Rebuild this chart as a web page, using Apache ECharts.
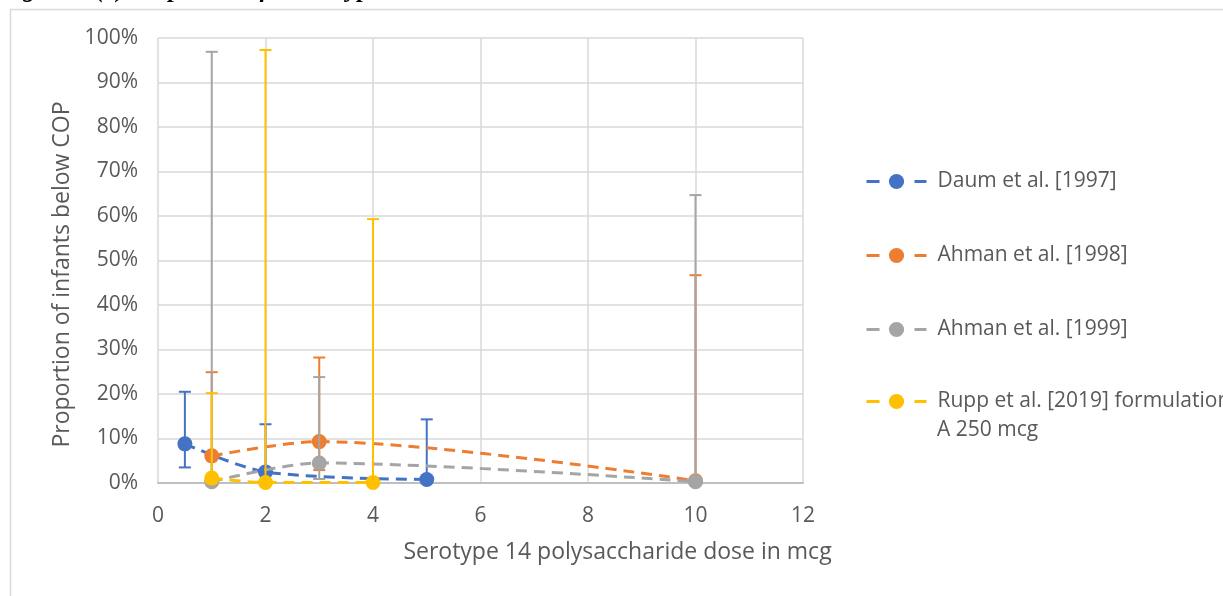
<!DOCTYPE html>
<html>
<head>
<meta charset="utf-8">
<script src="https://cdn.jsdelivr.net/npm/echarts@6/dist/echarts.min.js"></script>
<style>
  html, body { margin: 0; padding: 0; background: #fff; }
  #chart { width: 1223px; height: 596px; }
</style>
</head>
<body>
<div id="chart"></div>
<script>
var chartDom = document.getElementById('chart');
var chart = echarts.init(chartDom, null, { renderer: 'canvas' });

// Series names and colours
var seriesNames = ['Daum et al. [1997]', 'Ahman et al. [1998]', 'Ahman et al. [1999]', 'Rupp et al. [2019] formulation A 250 mcg'];
var seriesColors = ['#4472c4', '#ed7d31', '#a5a5a5', '#ffc000'];

// Dose (mcg) per series
var daumDose = [0.5, 2, 5];
var ahman98Dose = [1, 3, 10];
var ahman99Dose = [1, 3, 10];
var ruppDose = [1, 2, 4];

// Proportion below COP
var daumProp = [0.088, 0.025, 0.008];
var ahman98Prop = [0.061, 0.093, 0.005];
var ahman99Prop = [0.003, 0.045, 0.003];
var ruppProp = [0.011, 0.001, 0.001];

// Confidence interval lower / upper
var daumLow = [0.035, 0.005, 0.0];
var daumHigh = [0.205, 0.132, 0.143];
var ahman98Low = [0.012, 0.029, 0.0];
var ahman98High = [0.249, 0.282, 0.467];
var ahman99Low = [0.0, 0.009, 0.0];
var ahman99High = [0.969, 0.238, 0.647];
var ruppLow = [0.0, 0.0, 0.0];
var ruppHigh = [0.202, 0.973, 0.593];

var doses = [daumDose, ahman98Dose, ahman99Dose, ruppDose];
var props = [daumProp, ahman98Prop, ahman99Prop, ruppProp];
var lows = [daumLow, ahman98Low, ahman99Low, ruppLow];
var highs = [daumHigh, ahman98High, ahman99High, ruppHigh];

var font = '"Open Sans", "Noto Sans", sans-serif';

function renderErr(params, api) {
    var x = api.value(0), y = api.value(1), lo = api.value(2), hi = api.value(3);
    var top = api.coord([x, hi]);
    var mid = api.coord([x, y]);
    var bot = api.coord([x, lo]);
    var half = 6;
    var style = { stroke: api.visual('color'), lineWidth: 2 };
    var children = [
        { type: 'line', shape: { x1: top[0], y1: top[1], x2: bot[0], y2: bot[1] }, style: style },
        { type: 'line', shape: { x1: top[0] - half, y1: top[1], x2: top[0] + half, y2: top[1] }, style: style }
    ];
    if (bot[1] - mid[1] > 2) {
        children.push({ type: 'line', shape: { x1: bot[0] - half, y1: bot[1], x2: bot[0] + half, y2: bot[1] }, style: style });
    }
    return { type: 'group', children: children };
}

var series = [];
seriesNames.forEach(function (name, i) {
    series.push({
        name: 'err' + i,
        type: 'custom',
        renderItem: renderErr,
        itemStyle: { color: seriesColors[i] },
        encode: { x: 0, y: [1, 2, 3] },
        data: doses[i].map(function (d, k) { return [d, props[i][k], lows[i][k], highs[i][k]]; }),
        z: 2 + i * 2,
        silent: true
    });
    series.push({
        name: name,
        type: 'line',
        smooth: 0.3,
        symbol: 'circle',
        symbolSize: 15,
        itemStyle: { color: seriesColors[i] },
        lineStyle: { color: seriesColors[i], width: 3, type: [11, 7] },
        data: doses[i].map(function (d, k) { return [d, props[i][k]]; }),
        z: 3 + i * 2
    });
});

var legendText = { color: '#595959', fontSize: 21, fontFamily: font, padding: [0, 0, 0, 6] };
var legendLine = { width: 3, type: [13, 11] };

var option = {
    animation: false,
    backgroundColor: '#fff',
    grid: { left: 158, right: 420, top: 38, bottom: 113 },
    graphic: [
        {
            type: 'rect', left: 8, top: 7,
            shape: { x: 0, y: 0, width: 1300, height: 700 },
            style: { fill: 'none', stroke: '#d9d9d9', lineWidth: 1.5 },
            silent: true
        },
        {
            type: 'text', left: 0, top: -22,
            style: {
                text: 'Figure 3 (b) Proportions for serotype 14',
                font: 'italic bold 25px "Liberation Serif", serif',
                fill: '#000'
            }
        },
        {
            type: 'text', left: 937, top: 420,
            style: {
                text: 'A 250 mcg',
                font: '21px ' + font,
                fill: '#595959'
            }
        }
    ],
    legend: [
        {
            data: seriesNames.slice(0, 3),
            orient: 'vertical',
            left: 860,
            top: 166,
            itemWidth: 60,
            itemHeight: 19,
            itemGap: 53,
            lineStyle: legendLine,
            textStyle: legendText
        },
        {
            data: [seriesNames[3]],
            orient: 'vertical',
            left: 860,
            top: 386,
            itemWidth: 60,
            itemHeight: 19,
            lineStyle: legendLine,
            formatter: function () { return 'Rupp et al. [2019] formulation'; },
            textStyle: legendText
        }
    ],
    xAxis: {
        type: 'value',
        min: 0, max: 12, interval: 2,
        name: 'Serotype 14 polysaccharide dose in mcg',
        nameLocation: 'middle',
        nameGap: 58,
        nameTextStyle: { color: '#595959', fontSize: 23, fontFamily: font, padding: [0, 0, 0, 274] },
        axisLine: { show: true, onZero: false, lineStyle: { color: '#bfbfbf', width: 2 } },
        axisTick: { show: false },
        axisLabel: { color: '#595959', fontSize: 21, fontFamily: font, margin: 23 },
        splitLine: { show: true, lineStyle: { color: '#d9d9d9', width: 1.5 } }
    },
    yAxis: {
        type: 'value',
        min: 0, max: 1, interval: 0.1,
        name: 'Proportion of infants below COP',
        nameLocation: 'middle',
        nameGap: 84,
        nameTextStyle: { color: '#595959', fontSize: 23, fontFamily: font, padding: [0, 28, 0, 0] },
        axisLine: { show: false },
        axisTick: { show: false },
        axisLabel: {
            color: '#595959', fontSize: 21, fontFamily: font, margin: 20,
            formatter: function (v) { return Math.round(v * 100) + '%'; }
        },
        splitLine: { show: true, lineStyle: { color: '#d9d9d9', width: 1.5 } }
    },
    series: series
};

chart.setOption(option);
window.addEventListener('resize', function () {
    chart.resize();
});
</script>
</body>
</html>
